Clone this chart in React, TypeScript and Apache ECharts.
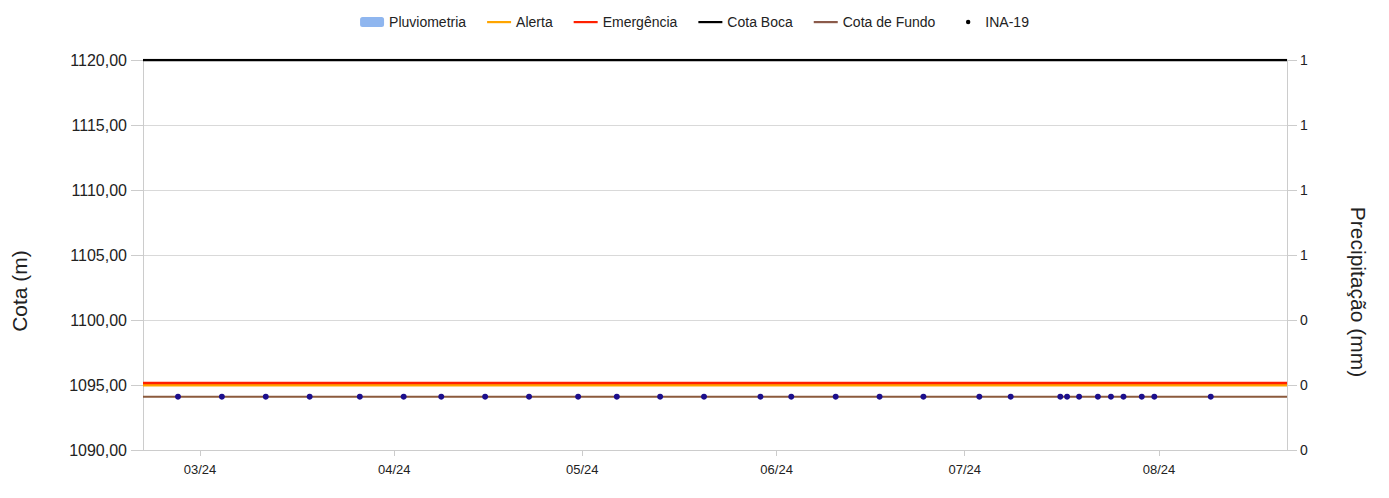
import React, { useEffect, useRef } from "react";
import * as echarts from "echarts";

// ---- Data ----
const axisStart = "2024-02-20T22:00:00";
const axisEnd = "2024-08-21T10:00:00";

const inaDates = [
  "2024-02-26T12:00:00", "2024-03-04T12:00:00", "2024-03-11T12:00:00", "2024-03-18T12:00:00",
  "2024-03-26T12:00:00", "2024-04-02T12:00:00", "2024-04-08T12:00:00", "2024-04-15T12:00:00",
  "2024-04-22T12:00:00", "2024-04-30T08:00:00", "2024-05-06T12:00:00", "2024-05-13T10:00:00",
  "2024-05-20T10:00:00", "2024-05-29T10:00:00", "2024-06-03T08:00:00", "2024-06-10T10:00:00",
  "2024-06-17T10:00:00", "2024-06-24T10:00:00", "2024-07-03T08:00:00", "2024-07-08T08:00:00",
  "2024-07-16T06:00:00", "2024-07-17T08:00:00", "2024-07-19T06:00:00", "2024-07-22T06:00:00",
  "2024-07-24T08:00:00", "2024-07-26T08:00:00", "2024-07-29T06:00:00", "2024-07-31T06:00:00",
  "2024-08-09T06:00:00",
];
const inaValues = inaDates.map(() => 1094.1);

const pluvioDates: string[] = [];
const pluvioValues: number[] = [];

const alertaLevel = 1095.0;
const emergenciaLevel = 1095.15;
const cotaBocaLevel = 1120.0;
const cotaFundoLevel = 1094.1;

const leftMin = 1090;
const leftMax = 1120;
const leftInterval = 5;

const legendNames = ["Pluviometria", "Alerta", "Emergência", "Cota Boca", "Cota de Fundo", "INA-19"];

const FONT = "'Liberation Sans', Arial, sans-serif";
const LINE_ICON = "path://M0,0 M24,10 M0,4 L24,4 L24,6.2 L0,6.2 Z";
const DOT_ICON = "path://M0,0 M24,10 M14,5 A2.2,2.2 0 1 0 9.6,5 A2.2,2.2 0 1 0 14,5 Z";

const ts = (s: string) => new Date(s).getTime();

function levelLine(v: number) {
  return [
    [ts(axisStart), v],
    [ts(axisEnd), v],
  ];
}

export default function App() {
  const ref = useRef<HTMLDivElement>(null);

  useEffect(() => {
    if (!ref.current) return;
    const chart = echarts.init(ref.current, undefined, { renderer: "svg" });
    const timeAxisBase = {
      type: "time",
      min: ts(axisStart),
      max: ts(axisEnd),
      minInterval: 28 * 86400000,
      maxInterval: 31 * 86400000,
    };
    const option: any = {
      animation: false,
      backgroundColor: "#ffffff",
      textStyle: { fontFamily: FONT },
      legend: {
        top: 2,
        left: "center",
        itemGap: 21,
        itemWidth: 24,
        itemHeight: 10,
        textStyle: { fontFamily: FONT, fontSize: 14, color: "#222" },
        data: [
          { name: legendNames[0], icon: "roundRect", itemStyle: { color: "#8fb6ef" } },
          { name: legendNames[1], icon: LINE_ICON },
          { name: legendNames[2], icon: LINE_ICON },
          { name: legendNames[3], icon: LINE_ICON },
          { name: legendNames[4], icon: LINE_ICON },
          { name: legendNames[5], icon: DOT_ICON, itemStyle: { color: "#000000" } },
        ],
      },
      grid: { left: 135, right: 94, top: 52, bottom: 40, containLabel: false },
      xAxis: [
        {
          ...timeAxisBase,
          splitLine: { show: false },
          axisLine: { show: true, lineStyle: { color: "#cccccc" } },
          axisTick: { show: true, length: 6, lineStyle: { color: "#cccccc" } },
          axisLabel: {
            formatter: "{MM}/{yy}",
            color: "#222",
            fontFamily: FONT,
            fontSize: 13,
            margin: 13,
            showMinLabel: false,
            showMaxLabel: false,
          },
        },
        {
          ...timeAxisBase,
          show: false,
        },
      ],
      yAxis: [
        {
          type: "value",
          min: leftMin,
          max: leftMax,
          interval: leftInterval,
          position: "left",
          axisLine: { show: true, lineStyle: { color: "#cccccc" } },
          axisTick: { show: true, length: 12, lineStyle: { color: "#cccccc" } },
          axisLabel: {
            color: "#222",
            fontFamily: FONT,
            fontSize: 16,
            margin: 16,
            formatter: (v: number) => v.toFixed(2).replace(".", ","),
          },
          splitLine: { show: true, lineStyle: { color: "#d9d9d9" } },
        },
        {
          type: "value",
          min: 0,
          max: 1,
          interval: 1 / 6,
          position: "right",
          axisLine: { show: true, lineStyle: { color: "#cccccc" } },
          axisTick: { show: true, length: 10, lineStyle: { color: "#cccccc" } },
          axisLabel: {
            color: "#222",
            fontFamily: FONT,
            fontSize: 14,
            margin: 13,
            formatter: (v: number) => String(Math.round(v + 1e-9)),
          },
          splitLine: { show: false },
        },
      ],
      graphic: [
        {
          type: "text",
          x: 1,
          y: 283,
          rotation: Math.PI / 2,
          style: {
            text: "Cota (m)",
            font: `21px ${FONT}`,
            fill: "#222",
            textAlign: "center",
            textVerticalAlign: "top",
          },
        },
        {
          type: "text",
          x: 1361,
          y: 284,
          rotation: -Math.PI / 2,
          style: {
            text: "Precipitação (mm)",
            font: `21px ${FONT}`,
            fill: "#222",
            textAlign: "center",
            textVerticalAlign: "top",
          },
        },
      ],
      series: [
        {
          name: legendNames[0],
          type: "bar",
          xAxisIndex: 1,
          yAxisIndex: 1,
          itemStyle: { color: "#8fb6ef" },
          data: pluvioDates.map((d, i) => [ts(d), pluvioValues[i]]),
        },
        {
          name: legendNames[1],
          type: "line",
          yAxisIndex: 0,
          symbol: "none",
          color: "#ffa500",
          lineStyle: { color: "#ffa500", width: 3 },
          data: levelLine(alertaLevel),
        },
        {
          name: legendNames[2],
          type: "line",
          yAxisIndex: 0,
          symbol: "none",
          color: "#ff2000",
          lineStyle: { color: "#ff2000", width: 2.5 },
          data: levelLine(emergenciaLevel),
        },
        {
          name: legendNames[3],
          type: "line",
          yAxisIndex: 0,
          symbol: "none",
          color: "#000000",
          lineStyle: { color: "#000000", width: 2.5 },
          data: levelLine(cotaBocaLevel),
        },
        {
          name: legendNames[4],
          type: "line",
          yAxisIndex: 0,
          symbol: "none",
          color: "#8b5a4a",
          lineStyle: { color: "#8b5a3c", width: 2 },
          data: levelLine(cotaFundoLevel),
        },
        {
          name: legendNames[5],
          type: "scatter",
          yAxisIndex: 0,
          symbol: "circle",
          symbolSize: 6,
          color: "#1c0f8c",
          itemStyle: { color: "#1c0f8c", opacity: 1 },
          data: inaDates.map((d, i) => [ts(d), inaValues[i]]),
          z: 5,
        },
      ],
    };
    chart.setOption(option);
    return () => chart.dispose();
  }, []);

  return <div ref={ref} style={{ width: 1373, height: 482 }} />;
}
